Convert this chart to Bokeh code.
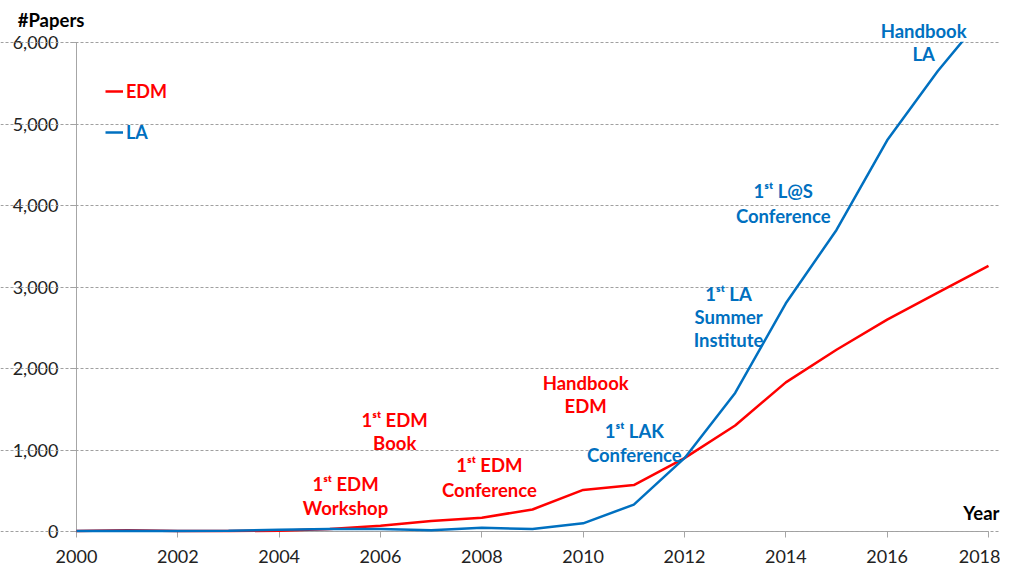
from bokeh.plotting import figure
from bokeh.models import Range1d, NumeralTickFormatter, FixedTicker, Label, Legend, LegendItem, BoxAnnotation
from bokeh.embed import file_html
from bokeh.resources import INLINE

RED = "#ff0000"
BLUE = "#0070c0"
FONT = "Lato"

years = list(range(2000, 2019))
edm = [5, 15, 5, 5, 10, 30, 70, 130, 170, 270, 510, 570, 900, 1300, 1830, 2230, 2600, 2930, 3260]
la = [5, 10, 5, 10, 20, 30, 30, 15, 45, 30, 100, 330, 900, 1700, 2800, 3700, 4800, 5650, 6400]

x_ticks = list(range(2000, 2019, 2))
y_ticks = [0, 1000, 2000, 3000, 4000, 5000, 6000]

# annotation texts: (text, year, value, colour)
notes = [
    ("1ˢᵗ EDM", 2005.31, 577, RED), ("Workshop", 2005.31, 294, RED),
    ("1ˢᵗ EDM", 2006.28, 1362, RED), ("Book", 2006.28, 1080, RED),
    ("1ˢᵗ EDM", 2008.15, 810, RED), ("Conference", 2008.15, 515, RED),
    ("Handbook", 2010.05, 1828, RED), ("EDM", 2010.05, 1534, RED),
    ("1ˢᵗ LAK", 2011.01, 1227, BLUE), ("Conference", 2011.01, 933, BLUE),
    ("1ˢᵗ LA", 2012.87, 2920, BLUE), ("Summer", 2012.87, 2626, BLUE), ("Institute", 2012.87, 2344, BLUE),
    ("1ˢᵗ L@S", 2013.95, 4184, BLUE), ("Conference", 2013.95, 3877, BLUE),
    ("Handbook", 2016.72, 6147, BLUE), ("LA", 2016.72, 5853, BLUE),
]

# layout (pixels): plot area spans x 76..988, y 42..531 of the canvas
W, H = 1000, 566
FL, FR, FT, FB = 76, 988, 42, 531
ppx = (FR - FL) / (x_ticks[-1] - x_ticks[0])
ppy = (FB - FT) / (y_ticks[-1] - y_ticks[0])
xr = Range1d(x_ticks[0] - FL / ppx, x_ticks[-1] + (W - FR) / ppx)
yr = Range1d(y_ticks[0] - (H - FB) / ppy, y_ticks[-1] + FT / ppy)

p = figure(width=W, height=H, output_backend="svg", toolbar_location=None,
           x_range=xr, y_range=yr,
           min_border_left=0, min_border_right=0, min_border_top=0, min_border_bottom=0)
p.outline_line_color = None
p.background_fill_color = "white"

p.xaxis.ticker = FixedTicker(ticks=x_ticks)
p.yaxis.ticker = FixedTicker(ticks=y_ticks)
p.yaxis.formatter = NumeralTickFormatter(format="0,0")
p.xaxis.fixed_location = y_ticks[0]
p.yaxis.fixed_location = x_ticks[0]
p.xaxis.bounds = (x_ticks[0], x_ticks[-1])
p.yaxis.bounds = (y_ticks[0], y_ticks[-1])
for ax in (p.xaxis, p.yaxis):
    ax.axis_line_color = "#a6a6a6"
    ax.major_tick_line_color = "#a6a6a6"
    ax.major_tick_out = 6
    ax.major_tick_in = 0
    ax.minor_tick_line_color = None
    ax.major_label_text_font = FONT
    ax.major_label_text_font_size = "18px"
    ax.major_label_text_color = "#222222"
    ax.level = "underlay"
p.yaxis.major_label_standoff = 12
p.xaxis.major_label_standoff = 12

p.xgrid.grid_line_color = None
p.ygrid.grid_line_color = "#a0a0a0"
p.ygrid.grid_line_dash = "3 2"
p.ygrid.grid_line_width = 1
p.ygrid.bounds = (x_ticks[0], x_ticks[-1])

r_edm = p.line(years, edm, line_color=RED, line_width=2.5)
r_la = p.line(years, la, line_color=BLUE, line_width=2.5)

# hide what lies above the top of the value axis
p.add_layout(BoxAnnotation(left=x_ticks[0], bottom=y_ticks[-1] + 0.8 / ppy,
                           fill_color="white", fill_alpha=1, line_color=None))

for name, rend, col, loc in (("EDM", r_edm, RED, (105, H - 102)), ("LA", r_la, BLUE, (105, H - 143))):
    lg = Legend(items=[LegendItem(label=name, renderers=[rend])], location=loc,
                padding=0, margin=0, spacing=0, border_line_color=None,
                background_fill_alpha=0, glyph_width=18, glyph_height=20,
                label_standoff=3, label_text_color=col, label_text_font=FONT,
                label_text_font_style="bold", label_text_font_size="18px", label_height=20)
    p.add_layout(lg)

for txt, xx, yy, col in notes:
    p.add_layout(Label(x=xx, y=yy, text=txt, text_color=col, text_font=FONT,
                       text_font_style="bold", text_font_size="18.5px",
                       text_align="center", text_baseline="middle"))

p.add_layout(Label(x=1998.84, y=6282, text="#Papers", text_color="black", text_font=FONT,
                   text_font_style="bold", text_font_size="18.5px",
                   text_align="left", text_baseline="middle"))
p.add_layout(Label(x=2017.86, y=233, text="Year", text_color="black", text_font=FONT,
                   text_font_style="bold", text_font_size="18.5px",
                   text_align="center", text_baseline="middle"))

open("out.html", "w").write(file_html(p, INLINE))
